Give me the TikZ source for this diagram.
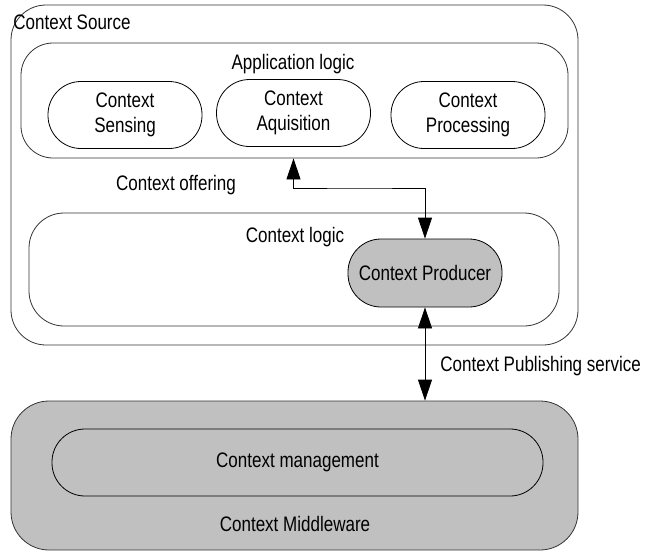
\documentclass[tikz,border=0pt]{standalone}
\usepackage{fontspec}
\setmainfont{Liberation Sans}[FakeStretch=0.81]
\usepackage{xcolor}
\usepackage{tikz}
\usetikzlibrary{arrows.meta}
\definecolor{grismw}{RGB}{192,192,192}

\begin{document}
\begin{tikzpicture}[x=1pt,y=-1pt,line width=0.8pt,
   >={Triangle[length=21pt,width=14pt]},
   every node/.style={font=\fontsize{21}{25}\selectfont,inner sep=0pt},
   grande boite/.style={draw=black!80,rectangle,rounded corners=35pt},
   module/.style={draw,rectangle,rounded corners=33pt,minimum width=154pt,
     minimum height=67pt,align=center},
   module gris/.style={module,fill=grismw}]

  \useasboundingbox (0,0) rectangle (645,552);

  % boites
  \node[grande boite,minimum width=567pt,minimum height=340pt](src) at (294.5,175) {};
  \node[grande boite,minimum width=547pt,minimum height=115pt,rounded corners=32pt](app) at (294.5,100.5) {};
  \node[grande boite,minimum width=530pt,minimum height=113pt](logic) at (294,269.5) {};
  \node[grande boite,fill=grismw,minimum width=567pt,minimum height=149pt,rounded corners=38pt](mw) at (294.5,475.5) {};

  % modules
  \node[module](sensing) at (125,115) {Context\\Sensing};
  \node[module](aquisition) at (293.5,113) {Context\\Aquisition};
  \node[module](processing) at (468,115) {Context\\Processing};
  \node[module gris,minimum height=68pt](producer) at (425,273) {Context Producer};
  \node[module gris,minimum width=491pt](mgmt) at (297.5,462.5) {Context management};

  % textes
  \node[anchor=west](src label) at (13,22) {Context Source};
  \node(app label) at (293,64) {Application logic};
  \node(offer label) at (176,185) {Context offering};
  \node(logic label) at (295,237) {Context logic};
  \node[anchor=west](pub label) at (440,366) {Context Publishing service};
  \node(mw label) at (295,524) {Context Middleware};

  % fleches
  \coordinate (bend) at (360,188);
  \draw[<->] (aquisition |- app.south) |- (bend) -| (producer.north);
  \draw[<->] (producer.south) -- (producer.south |- mw.north);
\end{tikzpicture}
\end{document}
